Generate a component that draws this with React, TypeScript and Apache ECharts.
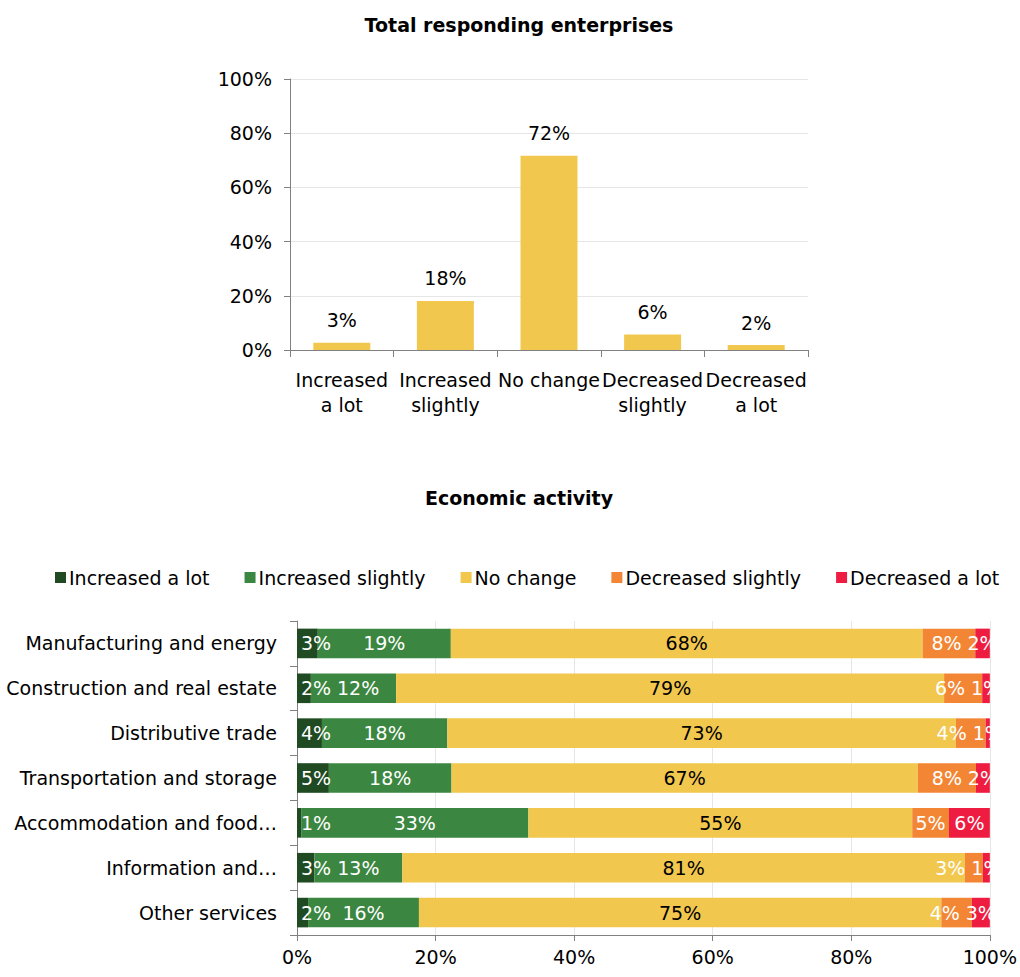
import React, { useEffect, useRef } from "react";
import * as echarts from "echarts";

const FONT = "'DejaVu Sans', Verdana, sans-serif";
const FS = 19;

const totalCategories = ["Increased\na lot", "Increased\nslightly", "No change", "Decreased\nslightly", "Decreased\na lot"];
const totalValues = [2.7, 18.1, 71.7, 5.7, 1.8];

const activities = [
  "Manufacturing and energy",
  "Construction and real estate",
  "Distributive trade",
  "Transportation and storage",
  "Accommodation and food…",
  "Information and…",
  "Other services",
];
const seriesNames = ["Increased a lot", "Increased slightly", "No change", "Decreased slightly", "Decreased a lot"];
const increasedALot = [3.0, 2.0, 3.6, 4.6, 0.6, 2.5, 1.6];
const increasedSlightly = [19.2, 12.3, 18.1, 17.7, 32.8, 12.7, 16.0];
const noChange = [68.1, 79.1, 73.4, 67.3, 55.4, 81.2, 75.4];
const decreasedSlightly = [7.6, 5.5, 4.3, 8.4, 5.3, 2.6, 4.4];
const decreasedALot = [2.1, 1.1, 0.6, 2.0, 5.9, 1.0, 2.6];

const colors = ["#1f4a22", "#3b8640", "#f2c74e", "#f38634", "#ee1c40"];

const GRID2 = { left: 297, top: 621, width: 695, height: 314 };

export default function App() {
  const ref = useRef<HTMLDivElement>(null);
  useEffect(() => {
    if (!ref.current) return;
    const chart = echarts.init(ref.current, null, { renderer: "svg" });
    const pct = (v: number) => Math.round(v) + "%";
    const stackData = [increasedALot, increasedSlightly, noChange, decreasedSlightly, decreasedALot];

    // resolve label collisions inside each stacked row (like the spreadsheet's label placement)
    const ctx = document.createElement("canvas").getContext("2d")!;
    ctx.font = FS + "px " + FONT;
    const pxPerPct = GRID2.width / 100;
    const pad = 4, gap = 6;
    const offsets: number[][] = seriesNames.map(() => activities.map(() => 0));
    activities.forEach((_, r) => {
      const vals = stackData.map((s) => s[r]);
      const centers: number[] = [];
      let acc = 0;
      vals.forEach((v) => { centers.push((acc + v / 2) * pxPerPct); acc += v; });
      const widths = vals.map((v) => ctx.measureText(pct(v)).width);
      const pos = centers.slice();
      pos[0] = Math.max(pos[0], widths[0] / 2 + pad);
      for (let i = 1; i < pos.length; i++) pos[i] = Math.max(pos[i], pos[i - 1] + (widths[i - 1] + widths[i]) / 2 + gap);
      const last = pos.length - 1;
      pos[last] = Math.min(pos[last], centers[last]);
      for (let i = last - 1; i >= 0; i--) pos[i] = Math.min(pos[i], pos[i + 1] - (widths[i] + widths[i + 1]) / 2 - gap);
      pos.forEach((p, i) => { offsets[i][r] = p - centers[i]; });
    });

    chart.setOption({
      animation: false,
      textStyle: { fontFamily: FONT },
      graphic: [
        {
          type: "text", x: 519, y: 25,
          style: { text: "Total responding enterprises", textAlign: "center", textVerticalAlign: "middle", font: "bold 19px " + FONT, fill: "#000" },
        },
        {
          type: "text", x: 519, y: 498,
          style: { text: "Economic activity", textAlign: "center", textVerticalAlign: "middle", font: "bold 19px " + FONT, fill: "#000" },
        },
        {
          type: "rect", z: 100,
          shape: { x: GRID2.left + GRID2.width + 1, y: GRID2.top - 5, width: 40, height: GRID2.height + 4 },
          style: { fill: "#fff" },
        },
      ],
      legend: {
        data: seriesNames,
        top: 563,
        left: 50,
        itemWidth: 11,
        itemHeight: 11,
        itemGap: 35,
        icon: "rect",
        textStyle: { fontSize: FS, color: "#000", fontFamily: FONT, padding: [0, 0, 0, -2] },
      },
      grid: [
        { left: 290, top: 79, width: 518, height: 271 },
        GRID2,
      ],
      xAxis: [
        {
          gridIndex: 0, type: "category", data: totalCategories,
          axisLine: { lineStyle: { color: "#808080" } },
          axisTick: { show: true, length: 7, lineStyle: { color: "#808080" } },
          axisLabel: { fontSize: FS, color: "#000", lineHeight: 25, margin: 17, interval: 0, fontFamily: FONT },
        },
        {
          gridIndex: 1, type: "value", min: 0, max: 100, interval: 20,
          axisLine: { show: true, lineStyle: { color: "#808080" } },
          axisTick: { show: true, length: 6, lineStyle: { color: "#808080" } },
          splitLine: { lineStyle: { color: "#e6e6e6" } },
          axisLabel: { fontSize: FS, color: "#000", formatter: "{value}%", margin: 12, fontFamily: FONT },
        },
      ],
      yAxis: [
        {
          gridIndex: 0, type: "value", min: 0, max: 100, interval: 20,
          axisLine: { show: true, lineStyle: { color: "#808080" } },
          axisTick: { show: true, length: 6, lineStyle: { color: "#808080" } },
          splitLine: { lineStyle: { color: "#e6e6e6" } },
          axisLabel: { fontSize: FS, color: "#000", formatter: "{value}%", margin: 18, fontFamily: FONT },
        },
        {
          gridIndex: 1, type: "category", data: activities, inverse: true,
          axisLine: { show: true, lineStyle: { color: "#808080" } },
          axisTick: { show: true, length: 7, lineStyle: { color: "#808080" } },
          axisLabel: { fontSize: FS, color: "#000", margin: 20, fontFamily: FONT },
        },
      ],
      series: [
        {
          type: "bar", xAxisIndex: 0, yAxisIndex: 0, data: totalValues,
          barWidth: "55%",
          itemStyle: { color: colors[2] },
          label: { show: true, position: "top", distance: 13, fontSize: FS, color: "#000", formatter: (p: any) => pct(p.value), fontFamily: FONT },
        },
        ...seriesNames.map((name, i) => ({
          name, type: "bar", stack: "total", xAxisIndex: 1, yAxisIndex: 1,
          data: stackData[i].map((v, r) => ({ value: v, label: { offset: [offsets[i][r], 0] } })),
          barCategoryGap: "34%",
          itemStyle: { color: colors[i] },
          label: {
            show: true, position: "inside", fontSize: FS,
            color: i === 2 ? "#000" : "#fff", formatter: (p: any) => pct(p.value), fontFamily: FONT,
          },
        })),
      ],
    });
    return () => chart.dispose();
  }, []);
  return <div ref={ref} style={{ position: "fixed", left: 0, top: 0, width: 1020, height: 977, background: "#fff" }} />;
}
